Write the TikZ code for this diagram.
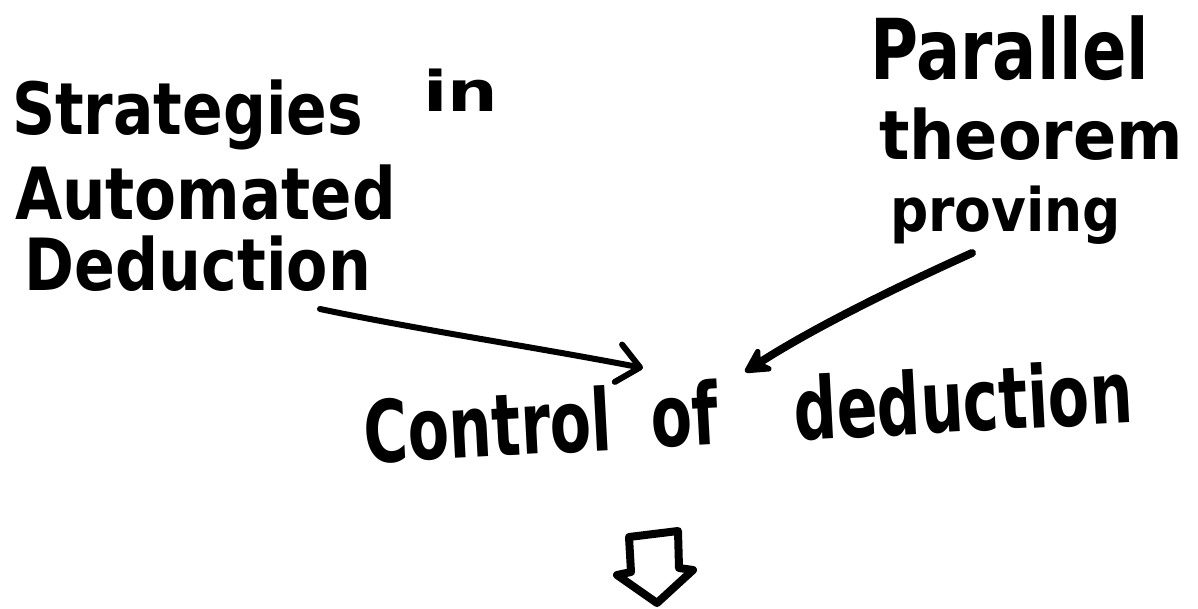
\documentclass[tikz,border=0pt]{standalone}
\usepackage{fontspec}
\setmainfont{DejaVu Sans}
\usepackage{graphicx}
\usetikzlibrary{arrows.meta}
% squeeze a piece of text to a given width, keeping its height
\newcommand{\fitto}[2]{\resizebox{#1}{\height}{#2}}
\begin{document}
\begin{tikzpicture}[x=0.5pt,y=-0.5pt,
  hand/.style={anchor=base west, inner sep=0pt, outer sep=0pt},
  ink/.style={line width=#1, line cap=round, line join=round},
  ink/.default=3pt]
  \fill[white] (0,0) rectangle (1198,609);
  \useasboundingbox (0,0) rectangle (1198,609);

  % left label
  \node[hand, font=\fontsize{36}{40}\selectfont\bfseries] (strat) at (12,135)
    {\fitto{175.5pt}{Strategies} \hspace{17.5pt}\raisebox{11.5pt}{\fitto{37.5pt}{\fontsize{28}{30}\selectfont in}}};
  \node[hand, font=\fontsize{36}{40}\selectfont\bfseries] (autom) at (15,220)
    {\fitto{190.5pt}{Automated}};
  \node[hand, font=\fontsize{36}{40}\selectfont\bfseries] (deduc) at (25,290)
    {\fitto{173pt}{Deduction}};

  % right label
  \node[hand, font=\fontsize{42}{46}\selectfont\bfseries] (paral) at (870,80)
    {\fitto{139.5pt}{Parallel}};
  \node[hand, font=\fontsize{34}{38}\selectfont\bfseries] (theor) at (879,160)
    {\fitto{152pt}{theorem}};
  \node[hand, font=\fontsize{30}{34}\selectfont\bfseries] (provi) at (890,232)
    {\fitto{115.5pt}{proving}};

  % centre label
  \node[hand, rotate=3, font=\fontsize{43}{48}\selectfont\bfseries] (ctrl) at (365,463)
    {\fitto{385pt}{Control\hspace{0.3em} of\hspace{0.9em} deduction}};

  % connectors
  \coordinate (a1s) at (320,309);
  \coordinate (a1e) at (643,368);
  \coordinate (a2s) at (972,253);
  \coordinate (a2e) at (745,372);
  \draw[ink=3pt, -{Straight Barb[length=11pt,width=19pt,round]}]
    (a1s) .. controls (420,330) and (540,348) .. (a1e);
  \draw[ink=4pt, -{Stealth[length=16pt,width=17pt,round]}]
    (a2s) .. controls (890,290) and (810,330) .. (a2e);

  % hollow arrow pointing down
  \draw[ink=4pt] (629,537) -- (678,531) -- (679,568) -- (693,570)
    -- (657,603) -- (617,575) -- (631,572) -- cycle;
\end{tikzpicture}
\end{document}
